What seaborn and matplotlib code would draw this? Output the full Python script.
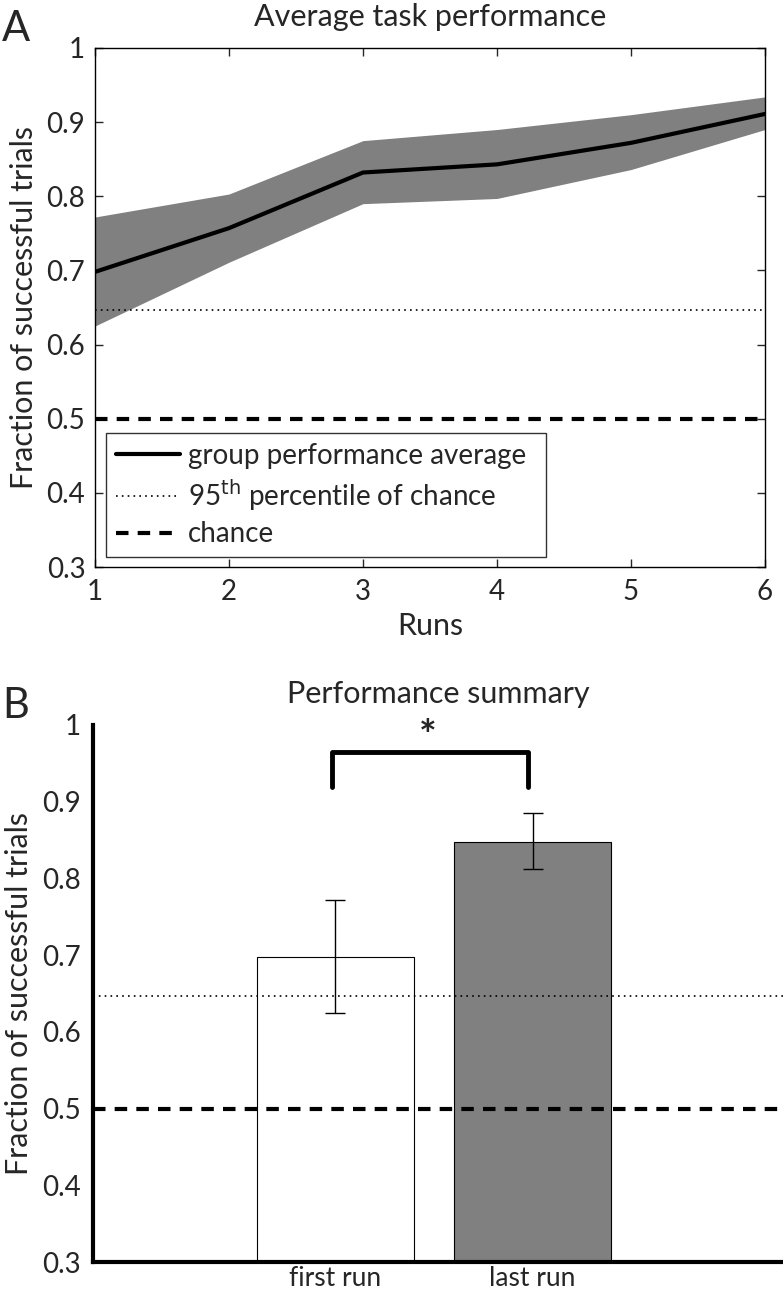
import numpy as np
import pandas as pd
import matplotlib
matplotlib.use("Agg")
import matplotlib.pyplot as plt
import seaborn as sns

# Panel A data
runs = [1, 2, 3, 4, 5, 6]
perf_mean = [0.698, 0.757, 0.832, 0.843, 0.872, 0.911]
perf_low = [0.625, 0.711, 0.790, 0.797, 0.836, 0.890]
perf_high = [0.772, 0.803, 0.875, 0.890, 0.910, 0.934]
chance = 0.5
chance_95 = 0.647

# Panel B data
bar_labels = ["first run", "last run"]
bar_values = [0.698, 0.848]
bar_err_low = [0.624, 0.812]
bar_err_high = [0.772, 0.885]
bar_colors = ["white", "#808080"]

sns.set_style("white")
plt.rcParams["font.family"] = ["Lato", "DejaVu Sans"]

fig = plt.figure(figsize=(7.83, 12.96), dpi=100)
yt = [0.3, 0.4, 0.5, 0.6, 0.7, 0.8, 0.9, 1.0]
ytl = ["0.3", "0.4", "0.5", "0.6", "0.7", "0.8", "0.9", "1"]

# ---------- A ----------
ax1 = fig.add_axes([0.1213, 0.5625, 0.8557, 0.4005])
ax1.fill_between(runs, perf_low, perf_high, color="#808080", lw=0)
sns.lineplot(x=runs, y=perf_mean, ax=ax1, color="black", lw=3,
             label="group performance average")
ax1.axhline(chance_95, color="black", ls=(0, (1, 2.5)), lw=1.2,
            label="95$^{\\rm th}$ percentile of chance")
ax1.axhline(chance, color="black", ls=(0, (3, 2.2)), lw=3, label="chance")
ax1.set_xlim(1, 6)
ax1.set_ylim(0.3, 1)
ax1.set_xticks(runs)
ax1.set_yticks(yt)
ax1.set_yticklabels(ytl)
ax1.tick_params(direction="in", length=6, width=1, labelsize=20,
                top=True, right=True, bottom=True, left=True, pad=7)
ax1.tick_params(axis="x", pad=9)
for s in ax1.spines.values():
    s.set_linewidth(1)
    s.set_color("black")
ax1.set_xlabel("Runs", fontsize=22, labelpad=5)
ax1.set_ylabel("Fraction of successful trials", fontsize=22, labelpad=6)
ax1.set_title("Average task performance", fontsize=22, pad=16)
leg = ax1.legend(loc="lower left", bbox_to_anchor=(0.0164, 0.019, 0.657, 0.2),
                 mode="expand", fontsize=20, frameon=True, fancybox=False,
                 edgecolor="black", handlelength=2.3, handletextpad=0.3,
                 borderpad=0.35, labelspacing=0.3, borderaxespad=0)
leg.get_frame().set_linewidth(1)
fig.text(0.003, 0.968, "A", fontsize=30)

# ---------- B ----------
ax2 = fig.add_axes([0.1188, 0.0262, 0.8812, 0.4144])
dfb = pd.DataFrame({"run": bar_labels, "value": bar_values})
sns.barplot(data=dfb, x="run", y="value", hue="run", palette=bar_colors,
            ax=ax2, width=0.8, edgecolor="black", linewidth=0.8,
            legend=False, dodge=False)
yerr = [np.array(bar_values) - np.array(bar_err_low),
        np.array(bar_err_high) - np.array(bar_values)]
ax2.errorbar([0, 1], bar_values, yerr=yerr, fmt="none", ecolor="black",
             elinewidth=1, capsize=7, capthick=1)
ax2.axhline(chance_95, color="black", ls=(0, (1, 2.5)), lw=1.2)
ax2.axhline(chance, color="black", ls=(0, (3, 2.2)), lw=3)
ax2.plot([-0.02, -0.02, 0.975, 0.975], [0.919, 0.965, 0.965, 0.919],
         color="black", lw=3.5)
ax2.text(0.47, 0.958, "*", fontsize=30, ha="center", va="bottom",
         fontweight="bold")
ax2.set_xlim(-1.23, 2.27)
ax2.set_ylim(0.3, 1)
ax2.set_yticks(yt)
ax2.set_yticklabels(ytl)
ax2.tick_params(axis="y", direction="in", length=0, labelsize=20, pad=9)
ax2.tick_params(axis="x", length=0, labelsize=19, pad=3)
sns.despine(ax=ax2)
ax2.spines["left"].set_linewidth(3)
ax2.spines["bottom"].set_linewidth(3)
ax2.spines["left"].set_color("black")
ax2.spines["bottom"].set_color("black")
ax2.set_xlabel("")
ax2.set_ylabel("Fraction of successful trials", fontsize=22, labelpad=6)
ax2.set_title("Performance summary", fontsize=22, pad=16)
fig.text(0.003, 0.446, "B", fontsize=30)

fig.savefig("out.png", dpi=100)
